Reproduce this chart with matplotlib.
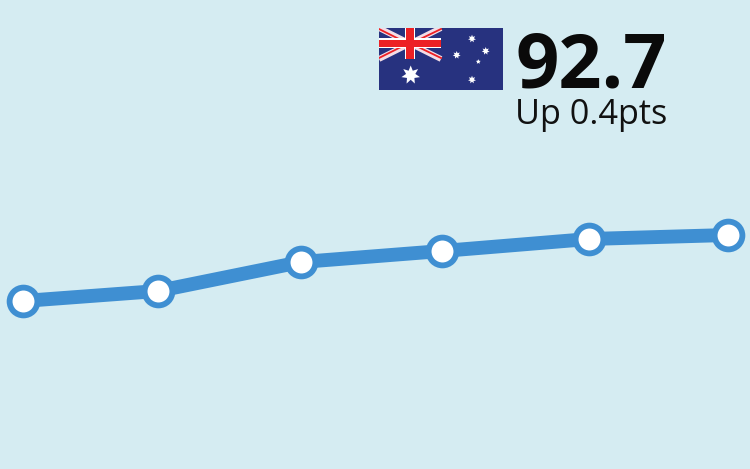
import numpy as np
import matplotlib
matplotlib.use("Agg")
import matplotlib.pyplot as plt
from matplotlib.patches import Polygon, Rectangle

# chart values
periods = [0, 135, 278, 419, 566, 705]
index_values = [86.1, 87.1, 90.0, 91.1, 92.3, 92.7]
headline = "92.7"
change_label = "Up 0.4pts"

BG = "#D5ECF2"
LINE = "#3F8FD2"
NAVY = "#27327F"
RED = "#ED2024"

fig = plt.figure(figsize=(7.5, 4.69), dpi=100, facecolor=BG)
ax = fig.add_axes([0, 0, 1, 1])
ax.set_facecolor(BG)
ax.set_xlim(-23, 727)
ax.set_ylim(69.3, 116.2)
ax.axis("off")

ax.plot(periods, index_values, color=LINE, lw=10, solid_capstyle="butt", zorder=2)
ax.plot(periods, index_values, ls="none", marker="o", ms=20, mew=4.2,
        mec=LINE, mfc="white", zorder=3, clip_on=False)

fig.text(515 / 750, 1 - 87 / 469, headline, fontfamily="Open Sans", fontweight="bold",
         fontsize=54.5, color="#0A0A0A", ha="left", va="baseline")
fig.text(515 / 750, 1 - 124 / 469, change_label, fontfamily="Open Sans",
         fontsize=24.7, color="#111111", ha="left", va="baseline")


def star(a, cx, cy, r, points=7, inner=0.5):
    ang = np.linspace(-np.pi / 2, 1.5 * np.pi, points * 2, endpoint=False)
    rad = np.where(np.arange(points * 2) % 2 == 0, r, r * inner)
    pts = np.column_stack([cx + rad * np.cos(ang), cy + rad * np.sin(ang)])
    a.add_patch(Polygon(pts, fc="white", ec="none", zorder=5))


# flag, 124x62 px, drawn in its own little axes
flag = fig.add_axes([379 / 750, 1 - 90 / 469, 124 / 750, 62 / 469])
flag.set_xlim(0, 124)
flag.set_ylim(62, 0)
flag.axis("off")
flag.add_patch(Rectangle((0, 0), 124, 62, fc=NAVY, ec="none"))

flag.plot([0, 62], [0, 31], color="#F3DDE6", lw=4.2, solid_capstyle="butt", zorder=2)
flag.plot([0, 62], [31, 0], color="#F3DDE6", lw=4.2, solid_capstyle="butt", zorder=2)
flag.plot([0, 31], [1, 16.5], color=RED, lw=1.3, zorder=3)
flag.plot([31, 62], [15, 30], color=RED, lw=1.3, zorder=3)
flag.plot([0, 31], [30, 14.5], color=RED, lw=1.3, zorder=3)
flag.plot([31, 62], [16, 1], color=RED, lw=1.3, zorder=3)
flag.add_patch(Rectangle((26, 0), 10, 31, fc="white", ec="none", zorder=3))
flag.add_patch(Rectangle((0, 10.5), 62, 10, fc="white", ec="none", zorder=3))
flag.add_patch(Rectangle((27, 0), 8, 31, fc=RED, ec="none", zorder=4))
flag.add_patch(Rectangle((0, 12.3), 62, 6.4, fc=RED, ec="none", zorder=4))

star(flag, 31.7, 47, 9.5)
star(flag, 93, 10.7, 4)
star(flag, 106.7, 23, 4)
star(flag, 93, 51.7, 4)
star(flag, 77.7, 27, 4)
star(flag, 99.3, 33.7, 2.5, points=5)

fig.savefig("out.png", dpi=100, facecolor=BG)
